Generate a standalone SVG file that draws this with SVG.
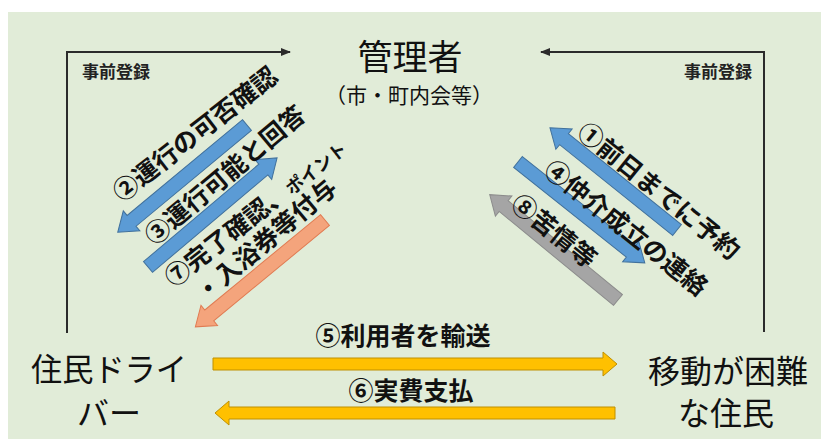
<svg xmlns="http://www.w3.org/2000/svg" width="821" height="439" viewBox="0 0 821 439">
<defs>
<style>
.t{font-family:"Noto Sans CJK JP","Noto Sans",sans-serif;fill:#111}
.node{font-size:32px}
.lbl{font-size:25px;font-weight:bold}
.small{font-size:17px;font-weight:bold;fill:#222}
.line{fill:none;stroke:#2b2b2b;stroke-width:2}
.blue{fill:#5B9BD5;stroke:#41719C;stroke-width:1}
.orange{fill:#F4A47C;stroke:#E07B52;stroke-width:1}
.gray{fill:#A5A5A5;stroke:#8C8C8C;stroke-width:1}
.yellow{fill:#FFC000;stroke:#BF9000;stroke-width:1}
</style>
<marker id="ah" markerUnits="userSpaceOnUse" markerWidth="10" markerHeight="10" refX="9" refY="5" orient="auto">
<path d="M0,1 L10,5 L0,9 Z" fill="#2b2b2b"/>
</marker>
</defs>
<rect x="0" y="0" width="821" height="439" fill="#ffffff"/>
<rect x="8" y="12" width="813" height="427" fill="#E1ECD8"/>

<g id="connectors">
<polyline class="line" points="67,333 67,52 290,52" marker-end="url(#ah)"/>
<polyline class="line" points="764,332 764,52 541,52" marker-end="url(#ah)"/>
<path class="blue" transform="translate(247,125) rotate(140.3)" d="M0,-7 H150 V-13 L168,0 L150,13 V7 H0 Z"/>
<path class="blue" transform="translate(148,267) rotate(-40.2)" d="M0,-7 H151 V-13 L169,0 L151,13 V7 H0 Z"/>
<path class="orange" transform="translate(325,220) rotate(140.5)" d="M0,-7 H150 V-13 L168,0 L150,13 V7 H0 Z"/>
<path class="blue" transform="translate(677,230) rotate(-141.2)" d="M0,-7 H145 V-13 L163,0 L145,13 V7 H0 Z"/>
<path class="blue" transform="translate(518,162) rotate(38.5)" d="M0,-7 H144 V-13 L162,0 L144,13 V7 H0 Z"/>
<path class="gray" transform="translate(618,300) rotate(-140.6)" d="M0,-7 H148 V-13 L166,0 L148,13 V7 H0 Z"/>
<path class="yellow" d="M213,358 H603 V352 L617,364 L603,376 V370 H213 Z"/>
<path class="yellow" d="M615,407 H229 V401 L215,413 L229,425 V419 H615 Z"/>
<text class="t small" x="82" y="78">事前登録</text>
<text class="t small" x="684" y="78">事前登録</text>
<text class="t lbl" text-anchor="middle" y="9" transform="translate(195,134) rotate(-38)">②運行の可否確認</text>
<text class="t lbl" text-anchor="middle" y="9" transform="translate(225,175) rotate(-40)">③運行可能と回答</text>
<text class="t lbl" y="9" transform="translate(168,281) rotate(-38)">⑦完了確認、<tspan font-size="18">ポイント</tspan></text>
<text class="t lbl" text-anchor="middle" y="9" transform="translate(266,240) rotate(-40)">・入浴券等付与</text>
<text class="t lbl" text-anchor="middle" y="9" transform="translate(659,191) rotate(39)">①前日までに予約</text>
<text class="t lbl" text-anchor="middle" y="9" transform="translate(626,228) rotate(38.5)">④仲介成立の連絡</text>
<text class="t lbl" text-anchor="middle" y="9" transform="translate(554,231) rotate(38.7)">⑧苦情等</text>
<text class="t lbl" x="403" y="345" text-anchor="middle">⑤利用者を輸送</text>
<text class="t lbl" x="411" y="400" text-anchor="middle">⑥実費支払</text>
</g>

<g id="kanrisha">
<text class="t" x="410" y="70" text-anchor="middle" font-size="35">管理者</text>
<text class="t" x="409" y="103" text-anchor="middle" font-size="21">（市・町内会等）</text>
</g>
<g id="driver">
<text class="t node" x="109" y="381" text-anchor="middle" textLength="156" lengthAdjust="spacingAndGlyphs">住民ドライ</text>
<text class="t node" x="109" y="425" text-anchor="middle">バー</text>
</g>
<g id="resident">
<text class="t node" x="728" y="383" text-anchor="middle" font-size="34">移動が困難</text>
<text class="t node" x="726" y="425" text-anchor="middle" font-size="34">な住民</text>
</g>
</svg>
